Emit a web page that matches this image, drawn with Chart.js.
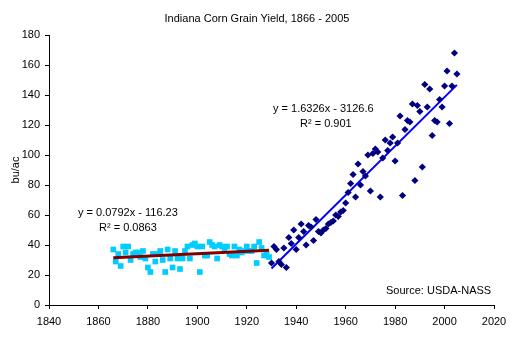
<!DOCTYPE html>
<html>
<head>
<meta charset="utf-8">
<script src="https://cdn.jsdelivr.net/npm/chart.js@4/dist/chart.umd.min.js"></script>
<style>
html,body{margin:0;padding:0;background:#fff;}
#wrap{width:514px;height:347px;position:relative;}
</style>
</head>
<body>
<div id="wrap"><canvas id="c" width="514" height="347"></canvas></div>
<script>
// ---- data ----
const earlyYears = [1866,1867,1868,1869,1870,1871,1872,1873,1874,1875,1876,1877,1878,1879,1880,1881,1882,1883,1884,1885,1886,1887,1888,1889,1890,1891,1892,1893,1894,1895,1896,1897,1898,1899,1900,1901,1902,1903,1904,1905,1906,1907,1908,1909,1910,1911,1912,1913,1914,1915,1916,1917,1918,1919,1920,1921,1922,1923,1924,1925,1926,1927,1928,1929];
const earlyYield = [37,29,34,26,39,35,39,30,34,35,35,32,36,31,25,22,34,29,34,36,30,22,37,31,25,36,31,24,31,36,39,31,40,41,39,22,39,33,33,42,40,39,31,40,39,38,39,34,33,39,33,37,35,36,39,36,36,39,28,42,38,33,34,32];
const lateYears = [1930,1931,1932,1933,1934,1935,1936,1937,1938,1939,1940,1941,1942,1943,1944,1945,1946,1947,1948,1949,1950,1951,1952,1953,1954,1955,1956,1957,1958,1959,1960,1961,1962,1963,1964,1965,1966,1967,1968,1969,1970,1971,1972,1973,1974,1975,1976,1977,1978,1979,1980,1981,1982,1983,1984,1985,1986,1987,1988,1989,1990,1991,1992,1993,1994,1995,1996,1997,1998,1999,2000,2001,2002,2003,2004,2005];
const lateYield = [28,39,37,29,27,38,25,45,41,50,37,45,54,49,40,53,52,43,57,49,48,50,51,54,55,56,60,59,62,63,68,75,81,87,72,94,80,89,86,100,76,101,104,102,72,98,110,103,108,112,96,108,126,73,117,123,122,134,83,133,129,92,147,132,144,113,123,122,137,132,146,156,121,146,168,154];
// trend line coefficients [slope, intercept] as printed on the chart
const earlyTrend = [0.0792, -116.23];
const lateTrend = [1.6326, -3126.6];
const earlyTrendLabels = ['y = 0.0792x - 116.23', 'R\u00B2 = 0.0863'];
const lateTrendLabels = ['y = 1.6326x - 3126.6', 'R\u00B2 = 0.901'];
const titleText = 'Indiana Corn Grain Yield, 1866 - 2005';
const sourceText = 'Source: USDA-NASS';
const yAxisTitle = 'bu/ac';

const pts = (xs, ys) => xs.map((x, i) => ({x: x, y: ys[i]}));
const trendPts = (xs, c) => [xs[0], xs[xs.length-1]].map(x => ({x: x, y: c[0]*x + c[1]}));

const FONT = 'Liberation Sans, Arial, sans-serif';

const textPlugin = {
  id: 'texts',
  afterDraw(chart) {
    const ctx = chart.ctx;
    ctx.save();
    ctx.fillStyle = '#000';
    ctx.font = '11px ' + FONT;
    ctx.textBaseline = 'middle';
    ctx.textAlign = 'center';
    ctx.fillText(titleText, 257, 19);
    ctx.textAlign = 'left';
    ctx.fillText(earlyTrendLabels[0], 78, 213);
    ctx.fillText(earlyTrendLabels[1], 99, 228);
    ctx.fillText(lateTrendLabels[0], 273, 109);
    ctx.fillText(lateTrendLabels[1], 300, 124);
    ctx.fillText(sourceText, 386, 291);
    ctx.restore();
  }
};

new Chart(document.getElementById('c'), {
  type: 'scatter',
  data: {
    datasets: [
      {
        label: 'early trend', type: 'line', data: trendPts(earlyYears, earlyTrend),
        borderColor: '#800000', borderWidth: 3, pointRadius: 0, fill: false, order: 1
      },
      {
        label: 'late trend', type: 'line', data: trendPts(lateYears, lateTrend),
        borderColor: '#0000FF', borderWidth: 2, pointRadius: 0, fill: false, order: 1
      },
      {
        label: '1866-1929', data: pts(earlyYears, earlyYield),
        pointStyle: 'rect', pointRadius: 4, backgroundColor: '#00CCFF', borderColor: '#00CCFF', borderWidth: 0, order: 2
      },
      {
        label: '1930-2005', data: pts(lateYears, lateYield),
        pointStyle: 'rectRot', pointRadius: 3.6, backgroundColor: '#000080', borderColor: '#000080', borderWidth: 0, order: 0
      }
    ]
  },
  options: {
    responsive: false,
    animation: false,
    layout: {padding: {left: 0, right: 20, top: 35, bottom: 0}},
    plugins: {legend: {display: false}, tooltip: {enabled: false}, title: {display: false}},
    scales: {
      x: {
        type: 'linear', min: 1840, max: 2020,
        ticks: {stepSize: 20, color: '#000', font: {family: FONT, size: 11}, padding: 6, maxRotation: 0,
                callback: v => String(v)},
        grid: {drawOnChartArea: false, drawTicks: true, tickLength: 4, color: '#000'},
        border: {display: true, color: '#000', width: 1},
        afterFit: s => { s.height = 42; }
      },
      y: {
        type: 'linear', min: 0, max: 180,
        ticks: {stepSize: 20, color: '#000', font: {family: FONT, size: 11}, padding: 5},
        grid: {drawOnChartArea: false, drawTicks: true, tickLength: 4, color: '#000'},
        border: {display: true, color: '#000', width: 1},
        title: {display: true, text: yAxisTitle, color: '#000', font: {family: FONT, size: 11}, padding: {top: 9, bottom: 0}},
        afterFit: s => { s.width = 49; }
      }
    }
  },
  plugins: [textPlugin]
});
</script>
</body>
</html>
